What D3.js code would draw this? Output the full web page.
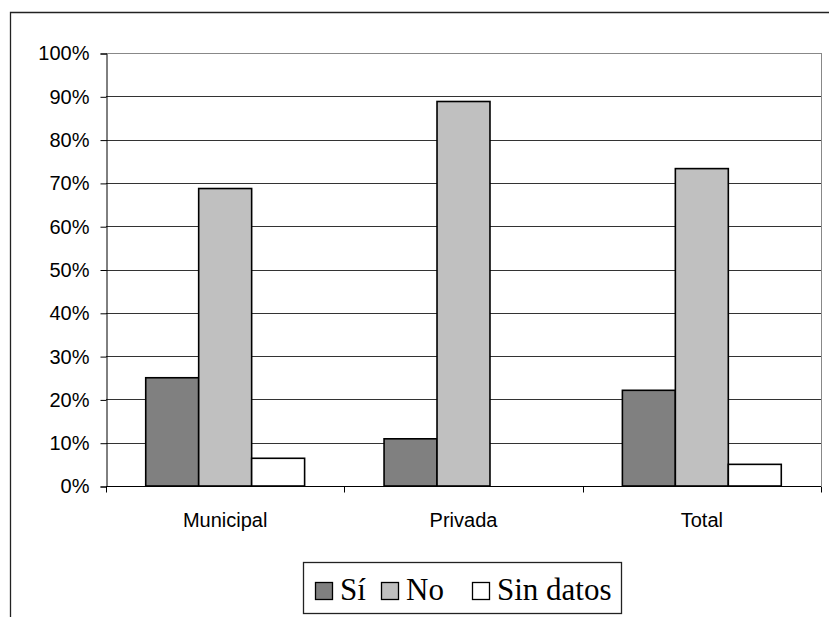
<!DOCTYPE html>
<html><head><meta charset="utf-8">
<script src="https://cdn.jsdelivr.net/npm/d3@7"></script>
<style>body{margin:0;background:#fff}svg{display:block}</style>
</head><body>
<script>
const categories = ["Municipal", "Privada", "Total"];
const seriesNames = ["Sí", "No", "Sin datos"];
const siValues = [25.0, 10.9, 22.1];
const noValues = [68.7, 88.8, 73.3];
const sinDatosValues = [6.4, 0, 5.0];
const yTicks = [0, 10, 20, 30, 40, 50, 60, 70, 80, 90, 100];
const colors = ["#808080", "#c0c0c0", "#ffffff"];

(function () {
const series = [siValues, noValues, sinDatosValues];
const W = 829, H = 617;
const svg = d3.select("body").append("svg").attr("width", W).attr("height", H);

// outer frame (top and left edges visible)
svg.append("path").attr("d", "M10.5,617 L10.5,12.5 L829,12.5")
  .attr("fill", "none").attr("stroke", "#222").attr("stroke-width", 1.3);

const pL = 106, pR = 821, pT = 53, pB = 486;
const x = d3.scaleBand().domain(categories).range([pL, pR]).paddingInner(0).paddingOuter(0);
const y = d3.scaleLinear().domain([0, 100]).range([pB, pT]);

// gridlines
svg.append("g").selectAll("line").data(yTicks.filter(d => d > 0)).join("line")
  .attr("x1", pL).attr("x2", pR)
  .attr("y1", d => Math.round(y(d)) + 0.5).attr("y2", d => Math.round(y(d)) + 0.5)
  .attr("stroke", d => d === 100 ? "#888" : "#333").attr("stroke-width", 1);
// right border
svg.append("line").attr("x1", pR + 0.5).attr("x2", pR + 0.5).attr("y1", pT).attr("y2", pB)
  .attr("stroke", "#888");

// bars
const groupW = x.bandwidth();
const barW = groupW / (3 + 1.5);
const gap = (groupW - 3 * barW) / 2;
const bx = d3.scaleBand().domain(seriesNames).range([gap, gap + 3 * barW]);
const g = svg.append("g");
categories.forEach((c, ci) => {
  seriesNames.forEach((s, si) => {
    const v = series[si][ci];
    if (v <= 0) return;
    g.append("rect")
      .attr("x", x(c) + bx(s)).attr("width", bx.bandwidth())
      .attr("y", y(v)).attr("height", y(0) - y(v))
      .attr("fill", colors[si]).attr("stroke", "#000").attr("stroke-width", 1.6);
  });
});

// y axis
const yAxis = d3.axisLeft(y).tickValues(yTicks).tickFormat(d => d + "%").tickSize(6).tickPadding(11);
const ya = svg.append("g").attr("transform", `translate(${pL + 0.5},0.5)`).call(yAxis);
ya.selectAll("text").attr("font-family", "Liberation Sans, Arial, sans-serif").attr("font-size", 20).attr("fill", "#000");
ya.selectAll("line,path").attr("stroke", "#000");

// x axis
const xa = svg.append("g").attr("transform", `translate(0,${pB + 0.5})`);
xa.append("line").attr("x1", pL).attr("x2", pR).attr("stroke", "#000");
const bounds = [pL, ...categories.map(c => x(c) + groupW)];
xa.selectAll("line.t").data(bounds).join("line").attr("class", "t")
  .attr("x1", d => Math.round(d) + 0.5).attr("x2", d => Math.round(d) + 0.5).attr("y1", 0).attr("y2", 6).attr("stroke", "#000");
xa.selectAll("text").data(categories).join("text")
  .attr("x", d => x(d) + groupW / 2).attr("y", 40)
  .attr("text-anchor", "middle").attr("font-family", "Liberation Sans, Arial, sans-serif")
  .attr("font-size", 20).text(d => d);

// legend
const lg = svg.append("g");
lg.append("rect").attr("x", 303.5).attr("y", 562.5).attr("width", 318).attr("height", 51)
  .attr("fill", "#fff").attr("stroke", "#222").attr("stroke-width", 1.3);
const legX = [315, 381, 472];
seriesNames.forEach((s, i) => {
  lg.append("rect").attr("x", legX[i] + 0.5).attr("y", 582.5).attr("width", 17).attr("height", 17)
    .attr("fill", colors[i]).attr("stroke", "#000").attr("stroke-width", 1.3);
  lg.append("text").attr("x", legX[i] + 25).attr("y", 600)
    .attr("font-family", "Liberation Serif, Times New Roman, serif").attr("font-size", 31)
    .text(s);
});
})();
</script>
</body></html>
